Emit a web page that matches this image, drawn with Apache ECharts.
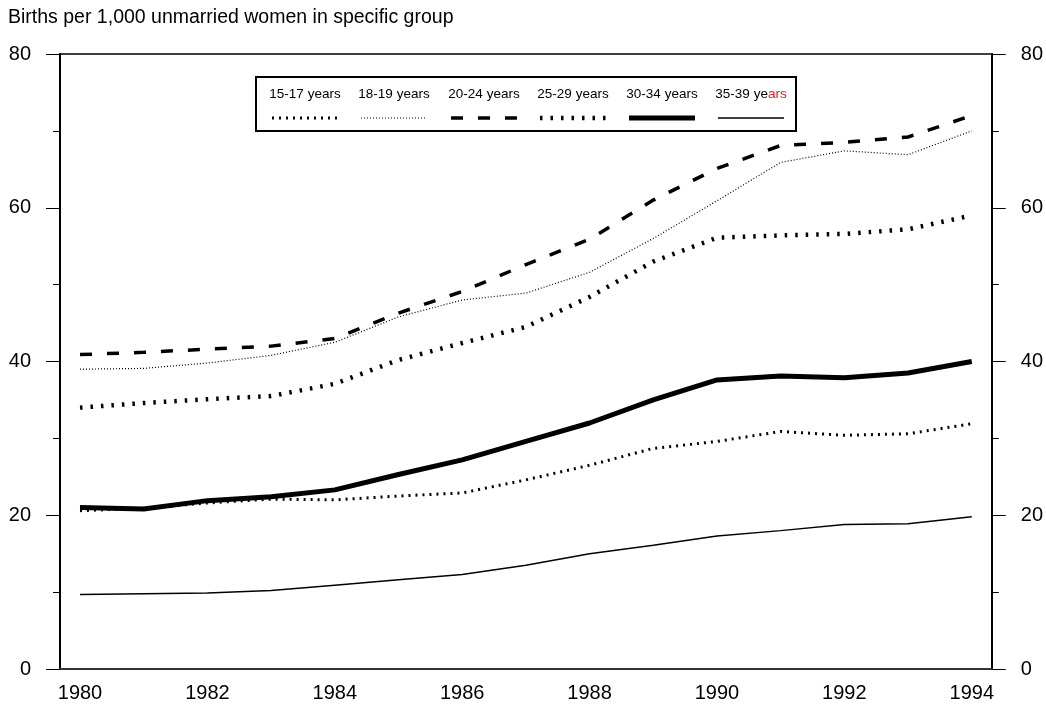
<!DOCTYPE html>
<html>
<head>
<meta charset="utf-8">
<script src="https://cdn.jsdelivr.net/npm/echarts@6/dist/echarts.min.js"></script>
<style>
  html, body { margin: 0; padding: 0; background: #fff; }
  #chart { width: 1046px; height: 704px; }
</style>
</head>
<body>
<div id="chart"></div>
<script>
'use strict';
var years = [1980, 1981, 1982, 1983, 1984, 1985, 1986, 1987, 1988, 1989, 1990, 1991, 1992, 1993, 1994];
var yearLabels = [1980, 1982, 1984, 1986, 1988, 1990, 1992, 1994];
var yTicks = [0, 20, 40, 60, 80];
var seriesNames = ['15-17 years', '18-19 years', '20-24 years', '25-29 years', '30-34 years', '35-39 years'];

var age15to17 = [20.6, 20.9, 21.6, 22.1, 22.0, 22.5, 22.9, 24.6, 26.5, 28.7, 29.6, 30.9, 30.4, 30.6, 31.9];
var age18to19 = [39.0, 39.1, 39.8, 40.8, 42.5, 45.8, 48.0, 48.9, 51.6, 56.0, 60.9, 65.9, 67.4, 66.9, 70.0];
var age20to24 = [40.9, 41.2, 41.6, 42.0, 43.0, 46.3, 49.1, 52.6, 55.9, 61.0, 65.1, 68.1, 68.5, 69.2, 72.0];
var age25to29 = [34.0, 34.6, 35.1, 35.5, 37.1, 40.2, 42.4, 44.5, 48.4, 53.0, 56.1, 56.4, 56.6, 57.2, 59.0];
var age30to34 = [21.0, 20.8, 21.9, 22.4, 23.3, 25.3, 27.2, 29.6, 32.0, 35.0, 37.6, 38.1, 37.9, 38.5, 40.0];
var age35to39 = [9.7, 9.8, 9.9, 10.2, 10.9, 11.6, 12.3, 13.5, 15.0, 16.1, 17.3, 18.0, 18.8, 18.9, 19.8];

var allValues = [age15to17, age18to19, age20to24, age25to29, age30to34, age35to39];

// line looks, same order as seriesNames
var lineLooks = [
	{ width: 3, type: [2, 5] },
	{ width: 1.2, type: [1, 2] },
	{ width: 3.5, type: [12, 15] },
	{ width: 4.5, type: [2.5, 8] },
	{ width: 5, type: 'solid' },
	{ width: 1.5, type: 'solid' }
];

function pairs(values) {
	return years.map(function (y, i) { return [y, values[i]]; });
}

var font = 'Liberation Sans, Arial, sans-serif';

var series = seriesNames.map(function (name, i) {
	return {
		name: name,
		type: 'line',
		symbol: 'none',
		silent: true,
		lineStyle: {
			color: '#000',
			width: lineLooks[i].width,
			type: lineLooks[i].type,
			cap: 'butt'
		},
		data: pairs(allValues[i])
	};
});

// legend box drawn by hand: text row on top, line sample below
var legendLeft = 256, legendTop = 77, legendW = 540, legendH = 54;
var itemCenters = [305, 394, 484, 573, 662, 751];
var sampleHalf = 33;
var graphics = [{
	type: 'rect',
	shape: { x: legendLeft, y: legendTop, width: legendW, height: legendH },
	style: { fill: '#fff', stroke: '#000', lineWidth: 2 },
	z: 100
}];
seriesNames.forEach(function (name, i) {
	var isLast = i === seriesNames.length - 1;
	graphics.push({
		type: 'text',
		x: itemCenters[i],
		y: 94,
		z: 101,
		style: {
			text: isLast ? '35-39 ye{r|ars}' : name,
			font: '13.5px ' + font,
			fill: '#000',
			align: 'center',
			verticalAlign: 'middle',
			rich: { r: { fill: '#e8171b', font: '13.5px ' + font } }
		}
	});
	var dash = lineLooks[i].type === 'solid' ? null : lineLooks[i].type;
	graphics.push({
		type: 'line',
		z: 101,
		shape: { x1: itemCenters[i] - sampleHalf, y1: 118, x2: itemCenters[i] + sampleHalf, y2: 118 },
		style: { stroke: '#000', lineWidth: lineLooks[i].width, lineDash: dash, lineCap: 'butt' }
	});
});

var yAxisBase = function (pos) {
	return {
		type: 'value',
		position: pos,
		min: 0,
		max: 80,
		interval: 20,
		axisLine: { show: true, lineStyle: { color: '#000', width: 2 } },
		axisTick: { show: true, inside: false, length: 14, lineStyle: { color: '#000', width: 1 } },
		minorTick: { show: true, splitNumber: 2, length: 7, lineStyle: { color: '#000', width: 1 } },
		splitLine: { show: false },
		axisLabel: {
			margin: 29,
			color: '#000',
			fontSize: 20,
			fontFamily: font,
			customValues: yTicks
		}
	};
};

var chart = echarts.init(document.getElementById('chart'), null, { renderer: 'canvas' });
chart.setOption({
	animation: false,
	backgroundColor: '#fff',
	title: {
		text: 'Births per 1,000 unmarried women in specific group',
		left: 8,
		top: 8,
		padding: 0,
		textStyle: { fontSize: 19.5, fontWeight: 'normal', color: '#000', fontFamily: font }
	},
	grid: {
		left: 60,
		right: 54,
		top: 54,
		bottom: 35,
		show: true,
		borderColor: '#000',
		borderWidth: 1.5,
		backgroundColor: 'transparent'
	},
	xAxis: {
		type: 'value',
		min: 1979.686,
		max: 1994.314,
		axisLine: { show: true, onZero: false, lineStyle: { color: '#333', width: 2 } },
		axisTick: { show: false },
		splitLine: { show: false },
		axisLabel: {
			margin: 14,
			color: '#000',
			fontSize: 20,
			fontFamily: font,
			customValues: yearLabels,
			formatter: function (v) { return String(v); }
		}
	},
	yAxis: [yAxisBase('left'), yAxisBase('right')],
	graphic: graphics,
	series: series
});
</script>
</body>
</html>
